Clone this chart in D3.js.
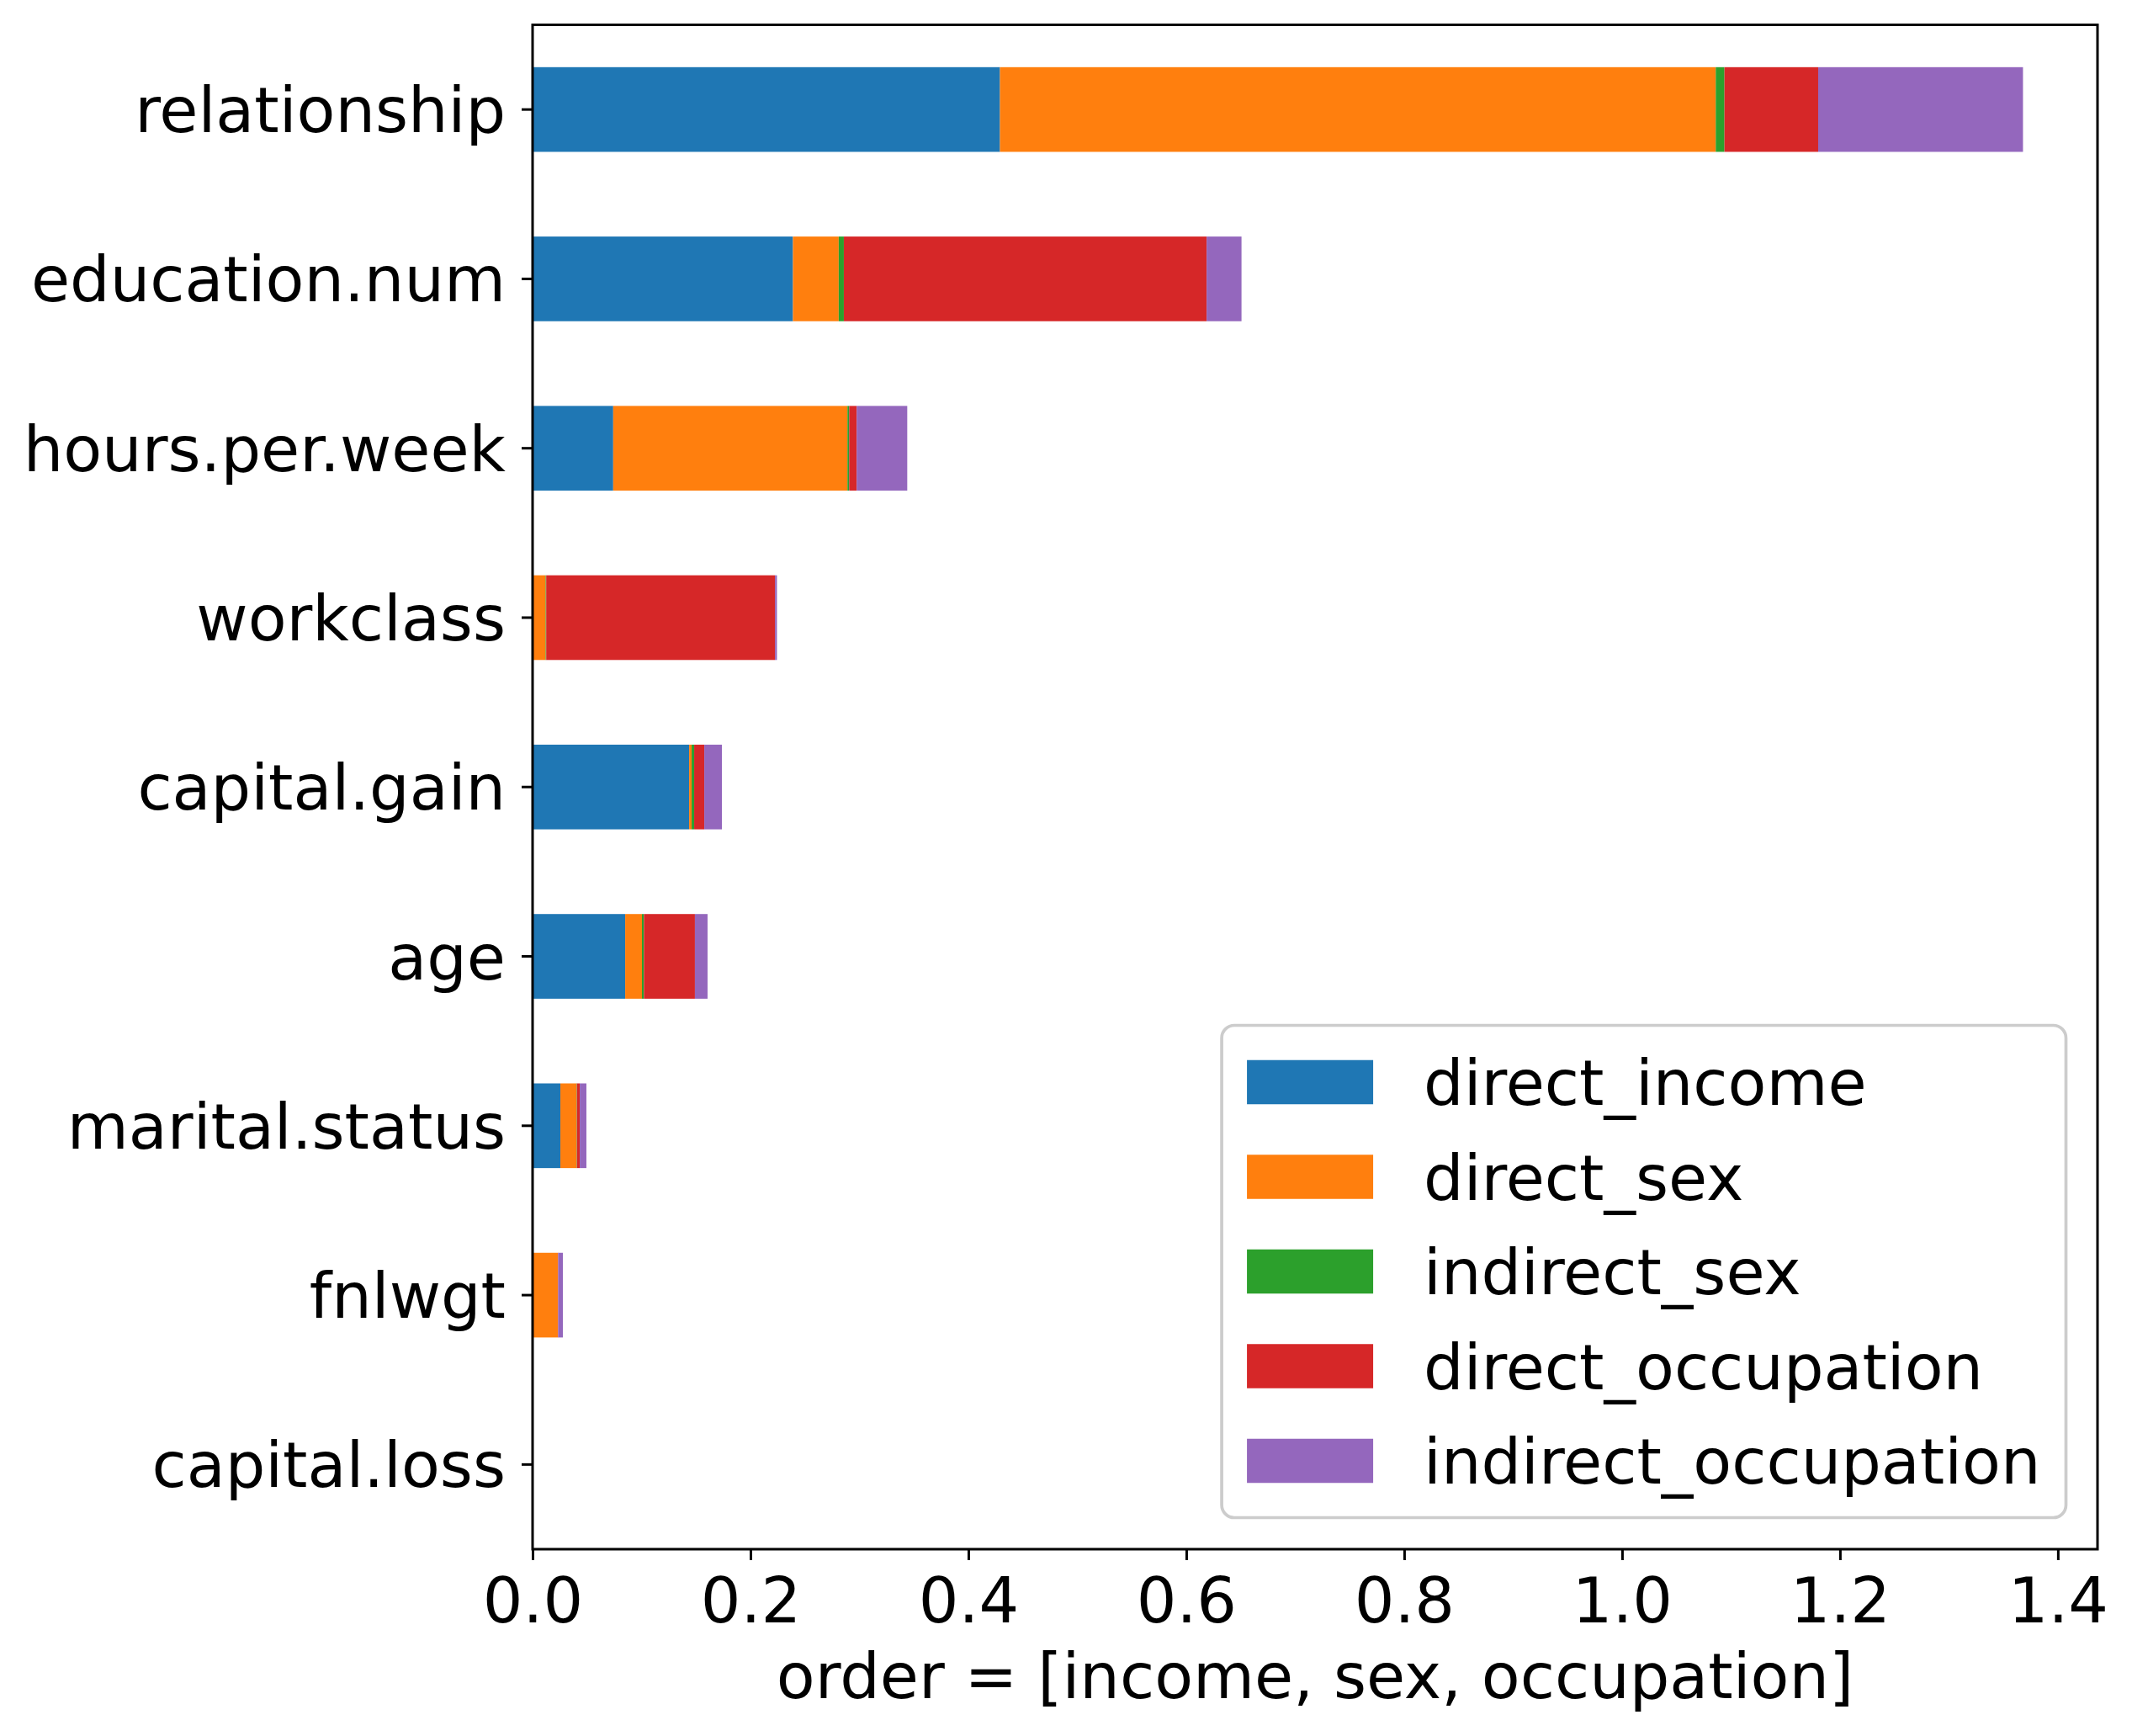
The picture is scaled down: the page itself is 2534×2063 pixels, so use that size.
<!DOCTYPE html>
<html>
<head>
<meta charset="utf-8">
<script src="https://cdn.jsdelivr.net/npm/d3@7"></script>
<style>
    body { margin: 0; background: #fff; }
    text { font-family: "DejaVu Sans", sans-serif; fill: #000; }
</style>
</head>
<body>
<div id="chart"></div>
<script>
// categories top -> bottom
var categories = ['relationship', 'education.num', 'hours.per.week', 'workclass',
    'capital.gain', 'age', 'marital.status', 'fnlwgt', 'capital.loss'];

var seriesNames = ['direct_income', 'direct_sex', 'indirect_sex', 'direct_occupation', 'indirect_occupation'];

var direct_income       = [0.429, 0.239, 0.074,  0.0,    0.1437, 0.085,  0.0255, 0.0,    0.0];
var direct_sex          = [0.657, 0.042, 0.215,  0.012,  0.0023, 0.0154, 0.0149, 0.0232, 0.0];
var indirect_sex        = [0.008, 0.0047, 0.0016, 0.0005, 0.0023, 0.0018, 0.0003, 0.0,    0.0];
var direct_occupation   = [0.086, 0.333, 0.0069, 0.210,  0.0093, 0.0468, 0.0026, 0.0003, 0.0];
var indirect_occupation = [0.188, 0.032, 0.0464, 0.0018, 0.0162, 0.0116, 0.0061, 0.0043, 0.0];

var xTicks = [0, 0.2, 0.4, 0.6, 0.8, 1.0, 1.2, 1.4];
var xLabel = 'order = [income, sex, occupation]';

var colors = ['#1f77b4', '#ff7f0e', '#2ca02c', '#d62728', '#9467bd'];

var W = 2534, H = 2063;
var fs = 75;
var box = { left: 633, right: 2493, top: 29.5, bottom: 1841 };
var lw = 3;

var svg = d3.select('#chart').append('svg')
    .attr('width', W)
    .attr('height', H);

// build rows for the stack
var cols = [direct_income, direct_sex, indirect_sex, direct_occupation, indirect_occupation];
var rows = categories.map(function (c, i) {
    var r = { name: c };
    for (var s = 0; s < seriesNames.length; s++) {
        r[seriesNames[s]] = cols[s][i];
    }
    return r;
});

var stacked = d3.stack().keys(seriesNames)(rows);
var maxTotal = d3.max(stacked[stacked.length - 1], function (d) { return d[1]; });

// matplotlib style: 5% margin on the top end, sticky at 0
var x = d3.scaleLinear()
    .domain([0, maxTotal * 1.05])
    .range([box.left, box.right]);

var y = d3.scaleBand()
    .domain(categories)
    .range([box.top, box.bottom])
    .paddingInner(0.5)
    .paddingOuter(0.25);

// bars
var layers = svg.append('g').attr('id', 'bars');
stacked.forEach(function (layer, s) {
    layers.append('g')
        .attr('fill', colors[s])
        .selectAll('rect')
        .data(layer)
        .enter()
        .append('rect')
        .attr('x', function (d) { return x(d[0]); })
        .attr('width', function (d) { return Math.max(0, x(d[1]) - x(d[0])); })
        .attr('y', function (d) { return y(d.data.name); })
        .attr('height', y.bandwidth());
});

// x axis
var xAxis = svg.append('g')
    .attr('transform', 'translate(0,' + box.bottom + ')')
    .call(d3.axisBottom(x)
        .tickValues(xTicks)
        .tickFormat(d3.format('.1f'))
        .tickSize(13)
        .tickPadding(13));

// y axis
var yAxis = svg.append('g')
    .attr('transform', 'translate(' + box.left + ',0)')
    .call(d3.axisLeft(y).tickSize(13).tickPadding(19));

[xAxis, yAxis].forEach(function (ax) {
    ax.select('.domain').remove();
    ax.selectAll('line').attr('stroke', '#000').attr('stroke-width', lw);
    ax.selectAll('text')
        .attr('font-size', fs)
        .attr('font-family', '"DejaVu Sans", sans-serif')
        .attr('fill', '#000');
});
xAxis.selectAll('text').attr('dy', null).attr('y', 1928 - box.bottom)
    .attr('dominant-baseline', 'alphabetic');
yAxis.selectAll('text').attr('dy', '0.36em');

// frame
svg.append('rect')
    .attr('x', box.left)
    .attr('y', box.top)
    .attr('width', box.right - box.left)
    .attr('height', box.bottom - box.top)
    .attr('fill', 'none')
    .attr('stroke', '#000')
    .attr('stroke-width', lw);

// x label
svg.append('text')
    .attr('x', (box.left + box.right) / 2)
    .attr('y', 2018)
    .attr('text-anchor', 'middle')
    .attr('font-size', fs)
    .text(xLabel);

// legend, lower right like matplotlib 'best'
function renderLegend() {
    var pad = 0.4 * fs, handleW = 2.0 * fs, handleH = 0.7 * fs;
    var textPad = 0.8 * fs, rowH = fs, gap = 0.5 * fs;
    var legend = svg.append('g').attr('id', 'legend');
    var frame = legend.append('rect');
    var maxW = 0;
    var items = [];
    for (var i = 0; i < seriesNames.length; i++) {
        var t = legend.append('text')
            .attr('font-size', fs)
            .text(seriesNames[i]);
        maxW = Math.max(maxW, t.node().getComputedTextLength());
        items.push(t);
    }
    var bw = pad * 2 + handleW + textPad + maxW;
    var bh = pad * 2 + seriesNames.length * rowH + (seriesNames.length - 1) * gap;
    var right = box.right - 0.5 * fs;
    var bottom = box.bottom - 0.5 * fs;
    var left = right - bw, top = bottom - bh;

    frame.attr('x', left).attr('y', top)
        .attr('width', bw).attr('height', bh)
        .attr('rx', 0.2 * fs).attr('ry', 0.2 * fs)
        .attr('fill', 'rgba(255,255,255,0.8)')
        .attr('stroke', '#cccccc')
        .attr('stroke-width', 3.7);

    for (var n = 0; n < items.length; n++) {
        var cy = top + pad + n * (rowH + gap) + rowH / 2;
        legend.append('rect')
            .attr('x', left + pad)
            .attr('y', cy - handleH / 2)
            .attr('width', handleW)
            .attr('height', handleH)
            .attr('fill', colors[n]);
        items[n]
            .attr('x', left + pad + handleW + textPad)
            .attr('y', cy)
            .attr('dy', '0.36em');
    }
}
renderLegend();
</script>
</body>
</html>
